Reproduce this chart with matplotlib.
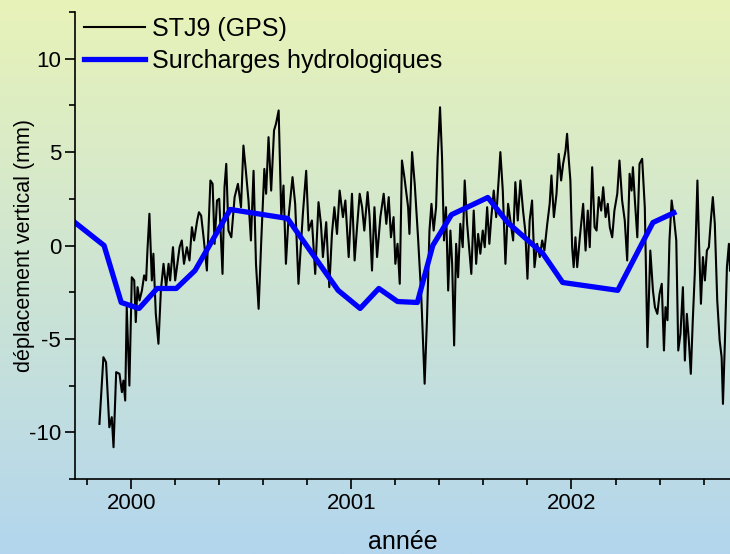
import numpy as np
import matplotlib
matplotlib.use('Agg')
import matplotlib.pyplot as plt
from matplotlib.colors import LinearSegmentedColormap
from matplotlib.ticker import MultipleLocator

plt.rcParams['font.family'] = ['Liberation Sans', 'DejaVu Sans']
plt.rcParams['axes.unicode_minus'] = False

# GPS station STJ9, vertical displacement (mm)
gps_t = [1999.856, 1999.874, 1999.886, 1999.901, 1999.912, 1999.920, 1999.932, 1999.947, 1999.958, 1999.965,
         1999.973, 1999.980, 1999.992, 2000.003, 2000.014, 2000.021, 2000.029, 2000.038, 2000.049, 2000.059,
         2000.068, 2000.074, 2000.083, 2000.094, 2000.101, 2000.112, 2000.124, 2000.135, 2000.147, 2000.159,
         2000.170, 2000.177, 2000.190, 2000.200, 2000.210, 2000.220, 2000.230, 2000.240, 2000.253, 2000.265,
         2000.276, 2000.286, 2000.300, 2000.308,
         2000.318, 2000.329, 2000.344, 2000.360, 2000.370, 2000.379, 2000.390, 2000.400, 2000.415, 2000.424,
         2000.432, 2000.442, 2000.455, 2000.470, 2000.485, 2000.499, 2000.510, 2000.521, 2000.533, 2000.544,
         2000.556, 2000.567, 2000.579, 2000.591, 2000.605, 2000.613, 2000.624, 2000.636, 2000.649, 2000.658,
         2000.670, 2000.682, 2000.692, 2000.703, 2000.715, 2000.733, 2000.745, 2000.760,
         2000.780, 2000.795, 2000.806, 2000.821, 2000.836, 2000.851, 2000.862, 2000.871, 2000.886, 2000.900,
         2000.912, 2000.923, 2000.935, 2000.947, 2000.962, 2000.973, 2000.988, 2001.003, 2001.015, 2001.026,
         2001.038, 2001.049, 2001.059, 2001.074, 2001.083, 2001.094, 2001.105, 2001.117, 2001.132, 2001.147,
         2001.159, 2001.170, 2001.180, 2001.192, 2001.200, 2001.210, 2001.220, 2001.230, 2001.241,
         2001.258, 2001.264, 2001.276, 2001.288, 2001.303, 2001.318, 2001.333, 2001.344, 2001.355, 2001.364,
         2001.374, 2001.385, 2001.392, 2001.403, 2001.412, 2001.421, 2001.430, 2001.440, 2001.450, 2001.458,
         2001.467, 2001.476, 2001.485, 2001.495, 2001.506, 2001.515, 2001.526, 2001.536, 2001.545, 2001.556,
         2001.567, 2001.576, 2001.586, 2001.597, 2001.606, 2001.617, 2001.627, 2001.636, 2001.647, 2001.658,
         2001.670, 2001.677, 2001.688, 2001.700, 2001.712,
         2001.735, 2001.745, 2001.756, 2001.768, 2001.780, 2001.790, 2001.800, 2001.810, 2001.821, 2001.832,
         2001.844, 2001.856, 2001.867, 2001.877, 2001.890, 2001.901, 2001.909, 2001.920, 2001.932, 2001.942,
         2001.953, 2001.962, 2001.973, 2001.980, 2001.988, 2001.995, 2002.003, 2002.010, 2002.018, 2002.026,
         2002.038, 2002.053, 2002.064, 2002.074, 2002.083, 2002.094, 2002.105, 2002.114, 2002.124, 2002.135,
         2002.144, 2002.155, 2002.165, 2002.174, 2002.185, 2002.195, 2002.208,
         2002.218, 2002.230, 2002.242, 2002.253, 2002.264, 2002.273, 2002.279, 2002.288, 2002.299, 2002.309,
         2002.321, 2002.333, 2002.345, 2002.358, 2002.370, 2002.379, 2002.390, 2002.400, 2002.410, 2002.420,
         2002.427, 2002.436, 2002.445, 2002.455, 2002.465, 2002.476, 2002.485, 2002.495, 2002.506, 2002.515,
         2002.524, 2002.533, 2002.542, 2002.551, 2002.560, 2002.572, 2002.579, 2002.588, 2002.597, 2002.606,
         2002.615, 2002.624, 2002.633, 2002.642, 2002.651, 2002.662, 2002.673, 2002.682, 2002.688, 2002.697,
         2002.706, 2002.715, 2002.720]
gps_mm = [-9.55, -5.98, -6.25, -9.73, -9.19, -10.8, -6.78, -6.87, -7.85, -7.23,
          -8.3, -3.3, -7.5, -1.7, -1.87, -4.1, -2.23, -2.94, -2.41, -1.6,
          -1.87, -0.27, 1.7, -1.87, -0.44, -3.66, -5.26, -2.41, -0.98, -2.23,
          -0.98, -1.87, -0.09, -1.87, -0.98, -0.09, 0.27, -0.98, -0.09, -0.8,
          0.98, 0.27, 1.34, 1.78,
          1.6, 0.44, -1.34, 3.48, 3.3, 0.09, 2.41, 2.5, -1.52, 3.12,
          4.37, 0.8, 0.44, 2.59, 3.3, 2.05, 5.35, 4.0, 2.41, 0.27,
          4.0, -0.98, -3.39, 0.27, 4.1, 2.77, 5.8, 2.94, 6.16, 6.52,
          7.23, 1.52, 3.21, -0.98, 1.52, 3.66, 2.23, -2.05,
          1.7, 4.0, 0.8, 1.34, -1.52, 2.32, 1.16, -0.62, 1.25, -2.23,
          0.62, 2.05, 0.62, 2.94, 1.52, 2.41, -0.62, 2.77, -0.8, 0.98,
          2.77, 2.05, 0.8, 2.86, 1.52, -1.34, 2.05, -0.62, 1.52, 2.77,
          1.16, 2.59, 0.44, 1.52, -0.98, 0.09, -2.05, 4.55, 3.66,
          2.05, 0.62, 5.0, 3.3, 0.44, -2.77, -7.4, -3.84, 0.8, 2.23,
          0.8, 2.05, 4.73, 7.4, 4.73, 0.27, 2.05, -2.41, 0.8, -0.98,
          -5.35, 0.09, -1.7, 1.16, -0.09, 3.48, 1.16, -0.27, -1.52, 1.87,
          -0.98, 0.62, -0.44, 0.8, -0.09, 2.05, 0.09, 1.52, 2.94, 1.52,
          3.66, 5.0, 2.94, -0.98, 2.23,
          0.27, 3.39, 1.34, 3.48, 1.87, 0.8, -1.78, 1.34, 2.41, -1.16,
          0.09, -0.62, 0.27, -0.27, 1.16, 2.23, 3.75, 1.52, 2.77, 4.9,
          3.48, 4.37, 5.08, 5.98, 4.55, 3.48, -0.09, -1.16, 0.44, -1.16,
          0.44, 2.23, -0.27, 1.87, -0.09, 4.19, 0.98, 0.8, 2.59, 1.87,
          3.12, 1.52, 2.23, 0.98, 0.44, 1.87, 2.77,
          4.55, 2.41, 1.34, -0.8, 3.84, 2.94, 4.19, 2.41, 0.44, 4.37,
          4.64, 2.05, -5.44, -0.27, -2.41, -3.3, -3.66, -2.59, -2.05, -5.62,
          -3.3, -4.0, 0.27, 2.41, 1.52, 0.27, -5.62, -4.73, -2.23, -6.16,
          -3.66, -5.08, -6.87, -4.0, -1.52, 3.48, 0.27, -3.12, -0.62, -1.87,
          -0.27, -0.09, 1.34, 2.59, 1.16, -2.94, -5.08, -5.98, -8.48, -5.08,
          -1.16, 0.09, -1.34]

# hydrological loading model (mm)
hyd_t = [1999.745, 1999.877, 1999.955, 2000.036, 2000.118, 2000.205, 2000.29, 2000.45, 2000.71,
         2000.94, 2001.04, 2001.125, 2001.21, 2001.30, 2001.37, 2001.455, 2001.62, 2001.71,
         2001.87, 2001.96, 2002.21, 2002.37, 2002.465]
hyd_mm = [1.23, 0.0, -3.05, -3.37, -2.3, -2.3, -1.34, 1.93, 1.45,
          -2.4, -3.37, -2.3, -3.0, -3.05, 0.0, 1.65, 2.57, 1.23,
          -0.43, -1.98, -2.4, 1.23, 1.75]

year_ticks = [2000, 2001, 2002]
mm_ticks = [-10, -5, 0, 5, 10]

fig = plt.figure(figsize=(7.30, 5.54), dpi=100)

# background gradient yellow -> blue
bg = fig.add_axes([0, 0, 1, 1], zorder=0)
cmap = LinearSegmentedColormap.from_list('bg', ['#e8f3b8', '#b3d6ee'])
bg.imshow(np.linspace(0, 1, 256).reshape(-1, 1), aspect='auto', cmap=cmap,
          extent=[0, 1, 0, 1])
bg.axis('off')

ax = fig.add_axes([75 / 730, 75 / 554, 655 / 730, 467 / 554], zorder=1)
ax.patch.set_alpha(0)

ax.plot(gps_t, gps_mm, color='black', lw=1.5, label='STJ9 (GPS)')
ax.plot(hyd_t, hyd_mm, color='#0000ff', lw=3.8, solid_joinstyle='round',
        label='Surcharges hydrologiques')

ax.set_xlim(1999.745, 2002.72)
ax.set_ylim(-12.5, 12.5)
ax.set_xticks(year_ticks)
ax.set_yticks(mm_ticks)
ax.xaxis.set_minor_locator(MultipleLocator(0.2))
ax.yaxis.set_minor_locator(MultipleLocator(2.5))

for side in ['top', 'right']:
    ax.spines[side].set_visible(False)
for side in ['left', 'bottom']:
    ax.spines[side].set_linewidth(1.2)

ax.tick_params(which='major', direction='out', length=7, width=1.2, labelsize=16, pad=3)
ax.tick_params(which='minor', direction='out', length=4, width=1.2)

ax.set_xlabel('année', fontsize=18)
ax.xaxis.set_label_coords(0.5, -0.11)
ax.set_ylabel('déplacement vertical (mm)', fontsize=15.5)
ax.yaxis.set_label_coords(-0.061, 0.5)

ax.legend(loc='upper left', bbox_to_anchor=(0.0137, 0.99), frameon=False, fontsize=18,
          borderpad=0, borderaxespad=0, handlelength=2.44, handletextpad=0.28,
          labelspacing=0.32)

plt.savefig('out.png', dpi=100)
